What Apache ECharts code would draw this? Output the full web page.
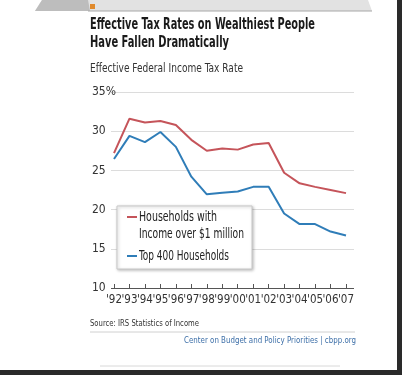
<!DOCTYPE html>
<html><head><meta charset="utf-8">
<script src="https://cdn.jsdelivr.net/npm/echarts@6/dist/echarts.min.js"></script>
<style>html,body{margin:0;padding:0;background:#fff}#c{width:402px;height:375px}</style>
</head><body><div id="c"></div>
<script>
var years = ["'92","'93","'94","'95","'96","'97","'98","'99","'00","'01","'02","'03","'04","'05","'06","'07"];
var millionaires = [27.2,31.6,31.1,31.3,30.8,28.9,27.5,27.8,27.65,28.3,28.5,24.7,23.35,22.9,22.5,22.1];
var top400 = [26.45,29.4,28.6,29.9,28.0,24.2,21.95,22.15,22.3,22.9,22.9,19.5,18.15,18.15,17.2,16.7];
var yTicks = [10,15,20,25,30,35];
var F = "'DejaVu Sans Condensed','Liberation Sans Narrow',sans-serif";
var RED = '#c5545a', BLUE = '#2f7db8';

var mctx = document.createElement('canvas').getContext('2d');
function txt(text, x, y, font, width, color, align, z) {
  mctx.font = font;
  var w = mctx.measureText(text).width;
  var s = width / w;
  return {type:'text', x:x, y:y, scaleX:s, scaleY:1, z:z||5,
    style:{text:text, font:font, fill:color, textAlign:align||'left', textVerticalAlign:'middle'}};
}

var chart = echarts.init(document.getElementById('c'));
chart.setOption({
  animation:false,
  backgroundColor:'#fff',
  grid:[
    {left:114,right:56,top:92,bottom:87},
    {left:111,right:48,top:92,bottom:87}
  ],
  xAxis:[
    {gridIndex:0,type:'category',data:years,boundaryGap:false,
     axisLine:{show:false},
     axisTick:{show:true,inside:true,length:4,alignWithLabel:true,lineStyle:{color:'#555'}},
     axisLabel:{color:'#333',fontFamily:F,fontSize:11.5,margin:6,interval:0}},
    {gridIndex:1,type:'value',min:0,max:1,show:false}
  ],
  yAxis:[
    {gridIndex:0,type:'value',min:yTicks[0],max:yTicks[yTicks.length-1],interval:5,show:false},
    {gridIndex:1,type:'value',min:yTicks[0],max:yTicks[yTicks.length-1],interval:5,
     axisLine:{show:false},axisTick:{show:false},
     splitLine:{show:true,lineStyle:{color:['#555','#dcdcdc','#dcdcdc','#dcdcdc','#dcdcdc','#dcdcdc'],width:1}},
     axisLabel:{color:'#333',fontFamily:F,fontSize:12,margin:19,align:'left',
       formatter:function(v){return v===yTicks[yTicks.length-1]?v+'%':String(v);}}}
  ],
  series:[
    {name:'Households with Income over $1 million',type:'line',xAxisIndex:0,yAxisIndex:0,data:millionaires,
     symbol:'none',lineStyle:{color:RED,width:2},itemStyle:{color:RED}},
    {name:'Top 400 Households',type:'line',xAxisIndex:0,yAxisIndex:0,data:top400,
     symbol:'none',lineStyle:{color:BLUE,width:2},itemStyle:{color:BLUE}}
  ],
  graphic:[
    {type:'polygon',shape:{points:[[35,11],[42,0],[368,0],[372,11]]},style:{fill:'#e2e2e2'},silent:true},
    {type:'polygon',shape:{points:[[35,11],[42,0],[88,0],[90,11]]},style:{fill:'#bdbdbd'},silent:true},
    {type:'line',shape:{x1:88,y1:11,x2:372,y2:11},style:{stroke:'#a8a8a8',lineWidth:1}},
    {type:'rect',shape:{x:90,y:4,width:5,height:5},style:{fill:'#e08a2c'}},
    {type:'rect',shape:{x:397,y:0,width:5,height:375},style:{fill:'#2a2a2a'}},
    {type:'rect',shape:{x:0,y:370,width:402,height:5},style:{fill:'#2a2a2a'}},
    {type:'line',shape:{x1:100,y1:366,x2:340,y2:366},style:{stroke:'#d8d8d8',lineWidth:1}},
    txt('Effective Tax Rates on Wealthiest People',90,25,'bold 16px '+F,225,'#1a1a1a'),
    txt('Have Fallen Dramatically',90,43,'bold 16px '+F,139,'#1a1a1a'),
    txt('Effective Federal Income Tax Rate',90,69,'13px '+F,153,'#333'),
    {type:'rect',shape:{x:117,y:206,width:135,height:63},style:{fill:'#fff',stroke:'#c8c8c8',lineWidth:1,shadowBlur:3,shadowColor:'rgba(0,0,0,0.25)',shadowOffsetX:1,shadowOffsetY:1},z:10},
    {type:'line',shape:{x1:127,y1:217,x2:137,y2:217},style:{stroke:RED,lineWidth:2},z:11},
    txt('Households with',139,217,'14px '+F,78,'#222','left',11),
    txt('Income over $1 million',139,234,'14px '+F,105,'#222','left',11),
    {type:'line',shape:{x1:127,y1:256,x2:137,y2:256},style:{stroke:BLUE,lineWidth:2},z:11},
    txt('Top 400 Households',139,256,'14px '+F,90,'#222','left',11),
    txt('Source: IRS Statistics of Income',90,324,'9px '+F,109,'#333'),
    {type:'line',shape:{x1:90,y1:332,x2:355,y2:332},style:{stroke:'#d0d0d0',lineWidth:1}},
    txt('Center on Budget and Policy Priorities | cbpp.org',356,341,'9px '+F,172,'#3d6fa8','right')
  ]
});
</script></body></html>
